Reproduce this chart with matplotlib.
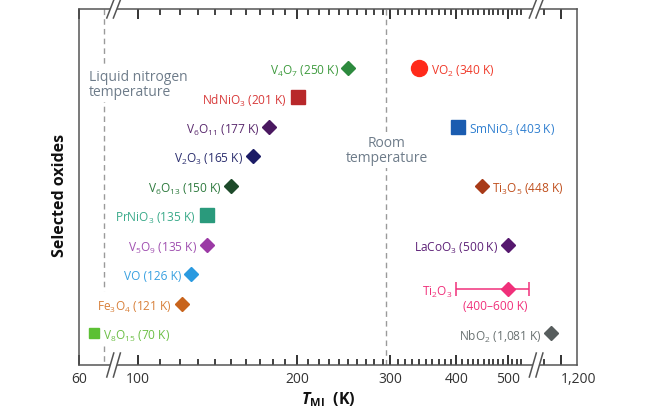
import numpy as np
import matplotlib.pyplot as plt
from matplotlib.lines import Line2D
from matplotlib.patches import Polygon
from matplotlib.transforms import IdentityTransform

plt.rcParams['font.family'] = ['Open Sans', 'DejaVu Sans']
plt.rcParams['mathtext.fontset'] = 'custom'
plt.rcParams['mathtext.rm'] = 'Open Sans'
plt.rcParams['mathtext.it'] = 'Open Sans:italic'
plt.rcParams['mathtext.bf'] = 'Open Sans:bold'
plt.rcParams['mathtext.bfit'] = 'Open Sans:italic:bold'

# data
labels = ['V$_4$O$_7$ (250 K)', 'VO$_2$ (340 K)', 'NdNiO$_3$ (201 K)', 'V$_6$O$_{11}$ (177 K)',
          'SmNiO$_3$ (403 K)', 'V$_2$O$_3$ (165 K)', 'V$_6$O$_{13}$ (150 K)', 'Ti$_3$O$_5$ (448 K)',
          'PrNiO$_3$ (135 K)', 'V$_5$O$_9$ (135 K)', 'LaCoO$_3$ (500 K)', 'VO (126 K)',
          'Fe$_3$O$_4$ (121 K)', 'V$_8$O$_{15}$ (70 K)', 'NbO$_2$ (1,081 K)']
temps = [250, 340, 201, 177, 403, 165, 150, 448, 135, 135, 500, 126, 121, 70, 1081]
rows = [0, 0, 1, 2, 2, 3, 4, 4, 5, 6, 6, 7, 8, 9, 9]
markers = ['D', 'o', 's', 'D', 's', 'D', 'D', 'D', 's', 'D', 'D', 'D', 'D', 's', 'D']
msizes = [6.8, 11.5, 10, 6.8, 10, 6.8, 6.8, 6.8, 10, 6.8, 6.8, 6.8, 6.8, 7, 6.8]
mcolors = ['#2d8a3e', '#ff2a1a', '#b8282a', '#4a1860', '#1a5cb0', '#1c1c66', '#1d4a2a', '#a83a18',
           '#2a9a7c', '#9b3aa5', '#56186e', '#2a9ae0', '#c8641c', '#5cc034', '#575d5d']
tcolors = ['#3f9b3f', '#f03a2a', '#d83a3a', '#5a2a6e', '#2f7fd0', '#2b2e6e', '#2e7a3e', '#c0501e',
           '#3aaa8a', '#a050b0', '#5e2278', '#38a0e0', '#d8803a', '#6cbf45', '#6a7272']
sides = ['L', 'R', 'L', 'L', 'R', 'L', 'L', 'R', 'L', 'L', 'L', 'L', 'L', 'R', 'L']

ti2o3_t = 500
ti2o3_lo, ti2o3_hi = 400, 600
ti2o3_row = 7.5

ln2_temp = 77
room_temp = 295

major_ticks = [60, 100, 200, 300, 400, 500, 1200]
major_labels = ['60', '100', '200', '300', '400', '500', '1,200']
minor_ticks = [t for t in range(110, 540, 10) if t % 100 != 0] + [1000]

# broken log axis: piecewise in log10(T)
kT = np.log10([60, 82, 91.7, 540, 1000, 1423])
kP = np.array([79, 110.3, 118, 525.4, 544, 577.0])


def fwd(t):
    return np.interp(np.log10(np.clip(t, 1e-9, None)), kT, kP)


def inv(p):
    return 10 ** np.interp(p, kP, kT)


fig = plt.figure(figsize=(6.45, 4.1), dpi=100)
ax = fig.add_axes([79 / 645, 1 - 366 / 410, 498 / 645, 356 / 410])
ax.set_xscale('function', functions=(fwd, inv))
ybot, ytop = 10.07, -2.0
ax.set_xlim(60, 1423)
ax.set_ylim(ybot, ytop)

# reference lines
dash = (0, (4, 3))
ax.vlines([ln2_temp, ln2_temp], [ytop, 9.42], [7.56, ybot], colors='#9a9a9a',
          linestyles=dash, lw=1, zorder=1)
ax.axvline(room_temp, color='#9a9a9a', ls=dash, lw=1, zorder=1)
ax.text(66.5, 0.55, 'Liquid nitrogen\ntemperature', color='#6e7c8a', fontsize=10,
        ha='left', va='center', linespacing=1.0, zorder=2,
        bbox=dict(facecolor='white', edgecolor='none', pad=2))
ax.text(room_temp, 2.78, 'Room\ntemperature', color='#6e7c8a', fontsize=10,
        ha='center', va='center', multialignment='center', linespacing=1.0, zorder=2,
        bbox=dict(facecolor='white', edgecolor='none', pad=2))

for lab, t, r, m, ms, mc, tc, s in zip(labels, temps, rows, markers, msizes,
                                       mcolors, tcolors, sides):
    ax.plot(t, r, marker=m, ms=ms, color=mc, ls='none', zorder=3)
    off = ms * 0.5 + (3.5 if m == 'D' else 3)
    if s == 'L':
        ax.annotate(lab, (t, r), xytext=(-off, 0), textcoords='offset points',
                    ha='right', va='center_baseline', color=tc, fontsize=8.6)
    else:
        ax.annotate(lab, (t, r), xytext=(off, 0), textcoords='offset points',
                    ha='left', va='center_baseline', color=tc, fontsize=8.6)

# Ti2O3 with range
ax.errorbar(ti2o3_t, ti2o3_row, xerr=[[ti2o3_t - ti2o3_lo], [ti2o3_hi - ti2o3_t]],
            fmt='D', ms=6.8, color='#f0307a', ecolor='#f0307a', elinewidth=1.1,
            capsize=4.7, capthick=1.1, zorder=3)
ax.annotate('Ti$_2$O$_3$', (ti2o3_lo, ti2o3_row), xytext=(-3, 0), textcoords='offset points',
            ha='right', va='center_baseline', color='#f0307a', fontsize=8.6)
ax.annotate('(400\u2013600 K)', (ti2o3_t, ti2o3_row), xytext=(-9, -12),
            textcoords='offset points', ha='center', va='center', color='#f0307a', fontsize=8.6)

# axes styling
for sp in ax.spines.values():
    sp.set_color('#555555')
    sp.set_linewidth(1.1)
ax.set_xticks(major_ticks, major_labels)
ax.set_xticks(minor_ticks, minor=True)
ax.tick_params(axis='x', which='both', direction='in', top=True, bottom=True,
               color='#333333', labelcolor='#333333', labelsize=10, pad=4)
ax.tick_params(axis='x', which='major', length=7, width=1.4)
ax.tick_params(axis='x', which='minor', length=4.5, width=1.3)
ax.tick_params(axis='y', left=False, labelleft=False)
for tl in ax.get_xticklabels():
    if tl.get_text() == '1,200':
        tl.set_horizontalalignment('left')

ax.set_ylabel('Selected oxides', fontweight='bold', fontsize=11.5, color='#111111')
ax.yaxis.set_label_coords(-0.022, 0.48)
ax.set_xlabel(r'$\mathbfit{T}_{\mathbf{MI}}$  (K)', fontweight='bold', fontsize=11.5,
              labelpad=3, color='#111111')

# axis break marks
for bt in [86, 770]:
    for yax in [0, 1]:
        xd, yd = ax.transData.transform((bt, 0))[0], ax.transAxes.transform((0, yax))[1]
        h, w, g = 12 if yax == 0 else 9, 3.5, 3.3
        gap = Polygon([(xd - g - w, yd - h), (xd + g - w, yd - h),
                       (xd + g + w, yd + h), (xd - g + w, yd + h)],
                      closed=True, facecolor='white', edgecolor='none',
                      transform=IdentityTransform(), clip_on=False, zorder=5)
        fig.add_artist(gap)
        for dx in [-g, g]:
            fig.add_artist(Line2D([xd + dx - w, xd + dx + w], [yd - h, yd + h],
                                  color='#555555', lw=1.1, transform=IdentityTransform(),
                                  zorder=6))

fig.savefig('out.png', dpi=100)
